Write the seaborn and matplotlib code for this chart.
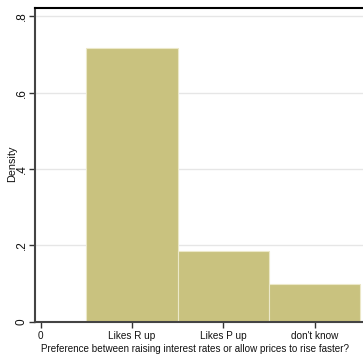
import matplotlib
matplotlib.use("Agg")
import matplotlib.pyplot as plt
import seaborn as sns
import pandas as pd

categories = ["Likes R up", "Likes P up", "don't know"]
positions = [1, 2, 3]
density = [0.718, 0.185, 0.098]
tick_pos = [0, 1, 2, 3]
tick_labels = ["0"] + categories
ytick_vals = [0, 0.2, 0.4, 0.6, 0.8]
ytick_labels = ["0", ".2", ".4", ".6", ".8"]

sns.set_theme(style="white")
plt.rcParams['font.family'] = ['Liberation Sans', 'DejaVu Sans']

df = pd.DataFrame({"pos": positions, "density": density})

fig = plt.figure(figsize=(3.63, 3.55), dpi=100)
ax = fig.add_axes([34.7 / 363, 33.3 / 355, 1 - 34.7 / 363 + 0.02, (321.7 - 8) / 355])

for v in ytick_vals[1:]:
    ax.axhline(v, color="#e6e6e6", lw=1.0, zorder=0)

sns.barplot(data=df, x="pos", y="density", native_scale=True, width=1.0,
            color="#c9c27f", saturation=1, edgecolor="#ece8c8", linewidth=0.8,
            ax=ax, zorder=2)

ax.set_xlim(-0.066, 3.53 + 0.02 * 363 / 91.3)
ax.set_ylim(0, 0.8215)
ax.set_xticks(tick_pos)
ax.set_xticklabels(tick_labels, color="#111111", fontsize=7.2)
ax.set_yticks(ytick_vals)
ax.set_yticklabels(ytick_labels, rotation=90, va="center", color="#111111", fontsize=8.5)

ax.set_xlabel("Preference between raising interest rates or allow prices to rise faster?",
              color="#111111", fontsize=7.1)
ax.xaxis.label.set_va("center")
ax.xaxis.set_label_coords(195 / 363, 1 - 349.5 / 355, transform=fig.transFigure)

ax.set_ylabel("Density", color="#111111", fontsize=7.8)
ax.yaxis.label.set_va("center")
ax.yaxis.set_label_coords(12 / 363, 1 - 164 / 355, transform=fig.transFigure)

ax.tick_params(axis="x", which="both", direction="out", length=4, width=1,
               color="#333333", pad=2.5, bottom=True)
ax.tick_params(axis="y", which="both", direction="out", length=4, width=1,
               color="#333333", pad=1.2, left=True)
for s in ["left", "bottom"]:
    ax.spines[s].set_color("#444444")
    ax.spines[s].set_linewidth(1.5)
ax.spines["top"].set_color("#000000")
ax.spines["top"].set_linewidth(1.5)
ax.spines["right"].set_visible(False)
ax.grid(False)

fig.savefig("out.png", dpi=100)
